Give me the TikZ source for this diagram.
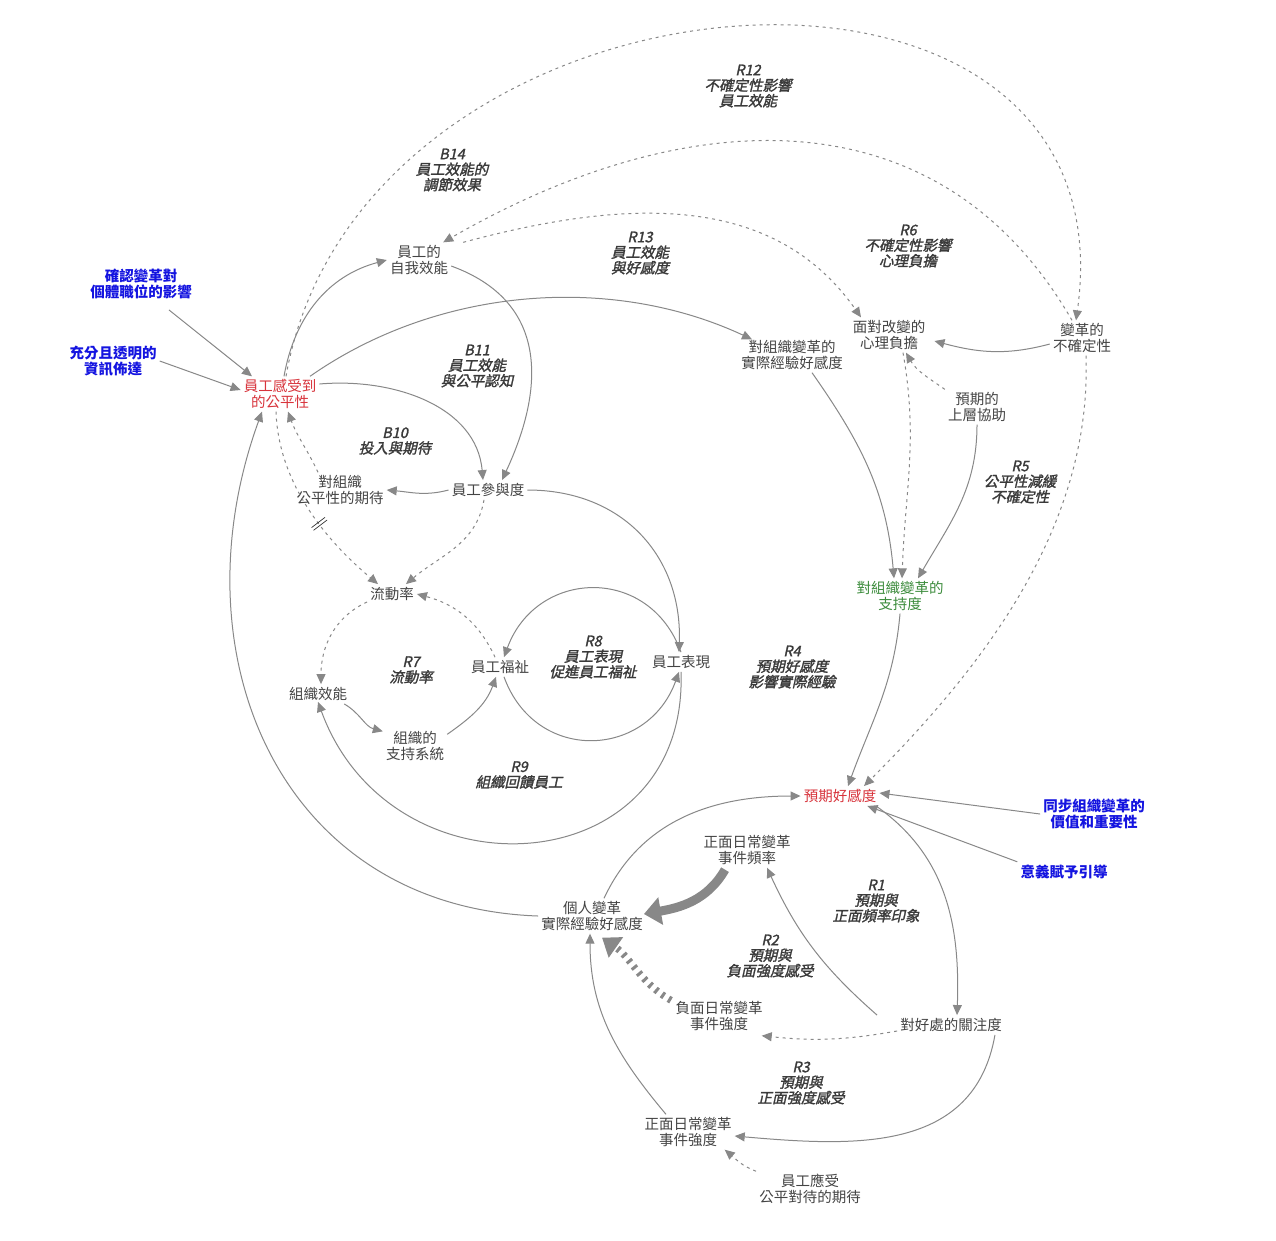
\documentclass[tikz,border=0pt]{standalone}
\usepackage{fontspec}
\setmainfont{Noto Sans CJK TC}
\newfontfamily\lab[FakeSlant=0.22,FakeBold=1.6]{Noto Sans CJK TC}
\usetikzlibrary{arrows.meta}
\definecolor{ln}{HTML}{888888}
\definecolor{tx}{HTML}{444444}
\definecolor{rd}{HTML}{D8343C}
\definecolor{gn}{HTML}{3C8C3C}
\definecolor{bl}{HTML}{1414E0}
\begin{document}
\begin{tikzpicture}[x=1pt,y=1pt,
  v/.style={align=center,text=tx,font=\fontsize{14.5}{15.5}\selectfont,inner sep=3pt},
  rv/.style={v,text=rd},
  gv/.style={v,text=gn},
  bv/.style={v,text=bl,font=\fontsize{14.5}{15.5}\selectfont\bfseries},
  lp/.style={align=center,text=tx!85!black,font=\fontsize{14.5}{15.5}\selectfont\lab},
  ar/.style={draw=ln,line width=1pt,-{Triangle[length=10pt,width=9pt]},color=ln},
  da/.style={ar,dash pattern=on 3pt off 4pt}]
\useasboundingbox (0,0) rectangle (1276,-1240);
\fill[white] (0,0) rectangle (1276,-1240);
% nodes
\node[rv] (fair) at (280,-394) {員工感受到\\的公平性};
\node[bv] (conf) at (141,-284) {確認變革對\\個體職位的影響};
\node[bv] (info) at (113,-361) {充分且透明的\\資訊佈達};
\node[v] (self) at (419,-260) {員工的\\自我效能};
\node[v] (act) at (792,-355) {對組織變革的\\實際經驗好感度};
\node[v] (burd) at (889,-335) {面對改變的\\心理負擔};
\node[v] (unc) at (1082,-338) {變革的\\不確定性};
\node[v] (upp) at (977,-407) {預期的\\上層協助};
\node[v] (efair) at (340,-490) {對組織\\公平性的期待};
\node[v] (eng) at (488,-490) {員工參與度};
\node[gv] (sup) at (900,-596) {對組織變革的\\支持度};
\node[v] (turn) at (392,-594) {流動率};
\node[v] (wel) at (500,-667) {員工福祉};
\node[v] (perf) at (681,-662) {員工表現};
\node[v] (oeff) at (318,-694) {組織效能};
\node[v] (osup) at (415,-746) {組織的\\支持系統};
\node[rv] (exp) at (840,-796) {預期好感度};
\node[bv] (sync) at (1094,-814) {同步組織變革的\\價值和重要性};
\node[bv] (mean) at (1064,-872) {意義賦予引導};
\node[v] (pfreq) at (747,-850) {正面日常變革\\事件頻率};
\node[v] (pers) at (592,-916) {個人變革\\實際經驗好感度};
\node[v] (nint) at (719,-1016) {負面日常變革\\事件強度};
\node[v] (attn) at (951,-1025) {對好處的關注度};
\node[v] (pint) at (688,-1132) {正面日常變革\\事件強度};
\node[v] (eexp) at (810,-1189) {員工應受\\公平對待的期待};
% loop labels
\node[lp] (l12) at (748,-86) {R12\\不確定性影響\\員工效能};
\node[lp] (l14) at (452,-170) {B14\\員工效能的\\調節效果};
\node[lp] (l13) at (640,-253) {R13\\員工效能\\與好感度};
\node[lp] (l6) at (908,-246) {R6\\不確定性影響\\心理負擔};
\node[lp] (l11) at (477,-366) {B11\\員工效能\\與公平認知};
\node[lp] (l10) at (395,-441) {B10\\投入與期待};
\node[lp] (l5) at (1020,-482) {R5\\公平性減緩\\不確定性};
\node[lp] (l8) at (593,-657) {R8\\員工表現\\促進員工福祉};
\node[lp] (l7) at (411,-670) {R7\\流動率};
\node[lp] (l4) at (792,-667) {R4\\預期好感度\\影響實際經驗};
\node[lp] (l9) at (519,-775) {R9\\組織回饋員工};
\node[lp] (l1) at (876,-901) {R1\\預期與\\正面頻率印象};
\node[lp] (l2) at (770,-956) {R2\\預期與\\負面強度感受};
\node[lp] (l3) at (801,-1083) {R3\\預期與\\正面強度感受};
% edges
\draw[ar] (conf.south) ++(28,-8) coordinate (c1) -- ([xshift=-28pt]fair.north);
\draw[ar] (info.east) -- ([yshift=4pt]fair.west);
\draw[ar] ([xshift=4pt]fair.north) to[out=80,in=195] (self.west);
\draw[ar] ([xshift=30pt]fair.north) to[out=35,in=155,looseness=0.9] ([xshift=-40pt,yshift=-2pt]act.north);
\draw[ar] ([yshift=10pt]fair.east) to[out=5,in=95] ([xshift=-5pt]eng.north);
\draw[ar] ([yshift=-6pt]self.east) to[out=-20,in=65,looseness=1.2] ([xshift=14pt]eng.north);
\draw[ar] (eng.west) to[out=195,in=-5] (efair.east);
\draw[da] ([xshift=-22pt]efair.north) to[out=115,in=-70] ([xshift=8pt]fair.south);
\draw[da] ([xshift=-4pt]fair.south) to[out=-88,in=140,looseness=0.9]
  node[pos=0.6,sloped,text=black,inner sep=0pt,font=\fontsize{16}{16}\selectfont] {$\|$} ([xshift=-14pt]turn.north);
\draw[da] ([xshift=-4pt]eng.south) to[out=-100,in=40] ([xshift=14pt]turn.north);
\draw[da] ([xshift=-5pt]wel.north) to[out=115,in=-15] (turn.east);
\draw[da] ([yshift=2pt]turn.south west) to[out=205,in=90] ([xshift=3pt]oeff.north);
\draw[ar] ([xshift=-6pt]oeff.south east) to[out=-30,in=165] ([yshift=-3pt]osup.north west);
\draw[ar] ([yshift=-6pt]osup.north east) to[out=35,in=-110] ([xshift=-4pt]wel.south);
\draw[ar] (perf.north) to[out=110,in=70,looseness=1.35] ([xshift=4pt]wel.north);
\draw[ar] ([xshift=4pt]wel.south) to[out=-70,in=-110,looseness=1.35] ([xshift=-2pt]perf.south);
\draw[ar] (eng.east) to[out=0,in=88,looseness=1.1] ([xshift=-2pt]perf.north);
\draw[ar] (perf.south) to[out=-88,in=-70,looseness=1.5] ([yshift=2pt]oeff.south);
\draw[ar] (pers.west) to[out=178,in=-110,looseness=1.15] ([xshift=-18pt]fair.south);
\draw[ar] ([xshift=20pt]act.south) to[out=-55,in=95] ([xshift=-6pt]sup.north);
\draw[da] ([xshift=14pt]burd.south) to[out=-80,in=88] ([xshift=2pt]sup.north);
\draw[da] (upp.north west) to[out=145,in=-60] ([xshift=17pt]burd.south);
\draw[ar] (upp.south) to[out=-90,in=60] ([xshift=18pt]sup.north);
\draw[ar] ([yshift=-6pt]unc.west) to[out=195,in=-15] ([xshift=6pt,yshift=-6pt]burd.east);
\draw[da] ([xshift=12pt]self.north east) to[out=15,in=125] ([xshift=-28pt]burd.north);
\draw[da] ([xshift=-10pt]unc.north) to[out=120,in=30,looseness=1.1] ([xshift=-8pt]self.north east);
\draw[da] ([xshift=6pt]fair.north) to[out=80,in=82,looseness=1.4] ([xshift=-6pt]unc.north);
\draw[da] ([xshift=4pt]unc.south) to[out=-88,in=45,looseness=0.9] ([xshift=24pt]exp.north);
\draw[ar] (sup.south) to[out=-95,in=70] ([xshift=8pt]exp.north);
\draw[ar] (sync.west) -- ([yshift=3pt]exp.east);
\draw[ar] (mean.north west) -- ([xshift=-12pt]exp.south east);
\draw[ar] ([xshift=36pt]exp.south) to[out=-35,in=88] ([xshift=6pt]attn.north);
\draw[ar] ([xshift=-20pt]attn.north west) to[bend left=12] ([xshift=20pt]pfreq.south);
\draw[da] ([yshift=-6pt]attn.west) to[bend left=8] ([xshift=-4pt,yshift=-2pt]nint.south east);
\draw[ar] ([xshift=-10pt]attn.south east) to[out=-100,in=-5,looseness=1.1] ([yshift=-4pt]pint.east);
\draw[da] (eexp.north west) to[out=160,in=-40] ([xshift=-10pt]pint.south east);
\draw[ar] ([xshift=-22pt]pint.north) to[out=130,in=-90] ([xshift=-2pt]pers.south);
\draw[ar] ([xshift=12pt]pers.north) to[out=65,in=180] (exp.west);
\draw[draw=ln,line width=9pt,-{Triangle[length=17pt,width=27pt]},color=ln]
  ([xshift=-22pt,yshift=-2pt]pfreq.south) to[out=-120,in=10] ([xshift=-2pt,yshift=2pt]pers.east);
\draw[draw=ln,line width=7pt,dash pattern=on 3pt off 5pt,-{Triangle[length=17pt,width=24pt]},color=ln]
  ([xshift=-48pt,yshift=-2pt]nint.north) to[out=150,in=-35] ([xshift=10pt,yshift=-4pt]pers.south);
\end{tikzpicture}
\end{document}
